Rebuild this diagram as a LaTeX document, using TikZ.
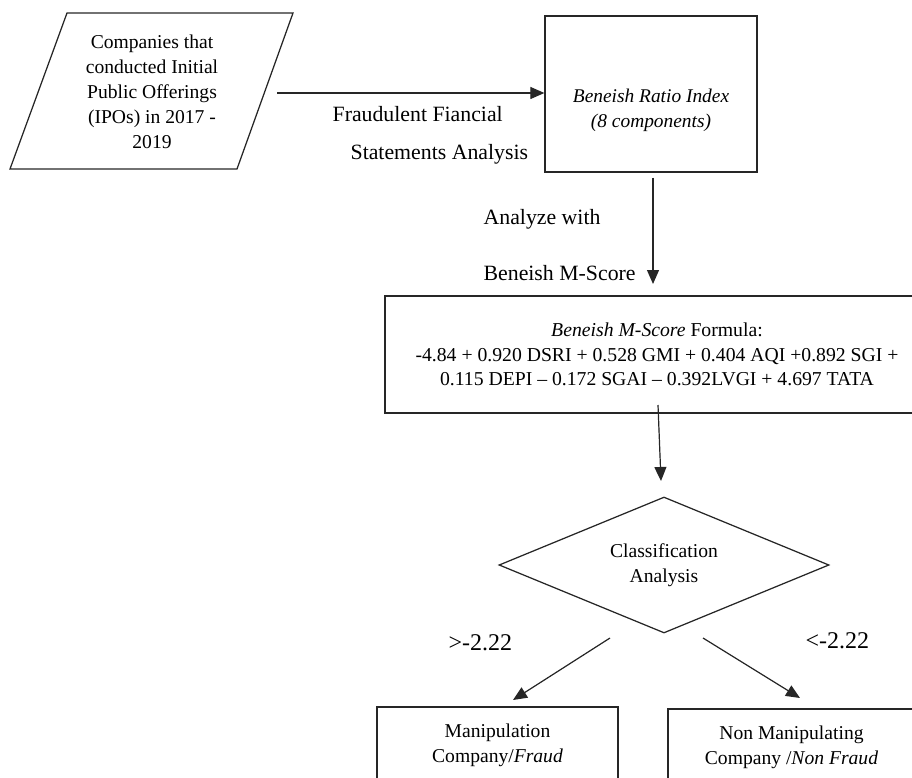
\documentclass[tikz,border=0pt]{standalone}
\usepackage{fontspec}
\setmainfont{Liberation Serif}
\usetikzlibrary{shapes.geometric,arrows.meta}
\begin{document}
\begin{tikzpicture}[x=1pt,y=-1pt,
  line width=1.25pt, draw=black!85,
  arr/.style={-{Triangle[length=14pt,width=12pt]}, line width=1.2pt, draw=black!85, fill=black},
  box/.style={draw, rectangle, inner sep=0pt},
  txt/.style={font=\fontsize{19.6}{25}\selectfont, align=center, inner sep=0pt},
  lbl/.style={font=\fontsize{21.8}{26}\selectfont, anchor=base west, inner sep=0pt},
  thr/.style={font=\fontsize{24}{28}\selectfont, anchor=base west, inner sep=0pt}]
\path[use as bounding box, clip] (0,0) rectangle (912,778);

% input parallelogram
\coordinate (p1) at (67,13);
\coordinate (p2) at (293,13);
\coordinate (p3) at (237,169);
\coordinate (p4) at (10,169);
\draw (p1) -- (p2) -- (p3) -- (p4) -- cycle;
\node[txt] (part) at (152,92) {Companies that\\conducted Initial\\Public Offerings\\(IPOs) in 2017 -\\2019};

% Beneish ratio index box
\node[box, minimum width=212pt, minimum height=156pt] (b1) at (651,94) {};
\node[txt, font=\itshape\fontsize{19.4}{25}\selectfont] (b1t) at (651,110) {Beneish Ratio Index\\(8 components)};

% formula box
\node[box, txt, font=\fontsize{19.7}{24.5}\selectfont, minimum width=544pt, minimum height=117pt] (fb) at (657,354.5)
 {\textit{Beneish M-Score} Formula:\\-4.84 + 0.920 DSRI + 0.528 GMI + 0.404 AQI +0.892 SGI +\\0.115 DEPI – 0.172 SGAI – 0.392LVGI + 4.697 TATA};

% decision diamond
\node[draw, diamond, minimum width=330pt, minimum height=136pt, inner sep=0pt] (dm) at (664,565) {};
\node[txt] (dmt) at (664,565) {Classification\\Analysis};

% result boxes
\node[box, txt, minimum width=241pt, minimum height=77pt] (lb) at (497.5,745.5) {Manipulation\\Company/\textit{Fraud}};
\node[box, txt, minimum width=247pt, minimum height=77pt] (rb) at (791.5,747.5) {Non Manipulating\\Company /\textit{Non Fraud}};

% connector end points
\coordinate (a1s) at (277,93);
\coordinate (a2s) at (653,178);
\coordinate (a2e) at (653,284);
\coordinate (a3s) at (658,405);
\coordinate (a3e) at (661,481);
\coordinate (a4s) at (610,638);
\coordinate (a4e) at (513,700);
\coordinate (a5s) at (703,638);
\coordinate (a5e) at (800,698);

\draw[arr] (a1s) -- (b1.west |- a1s);
\draw[arr] (a2s) -- (a2e);
\draw[arr] (a3s) -- (a3e);
\draw[arr] (a4s) -- (a4e);
\draw[arr] (a5s) -- (a5e);

% labels
\node[lbl] (l1) at (332,122) {Fraudulent Fiancial};
\node[lbl] (l2) at (350,160) {Statements Analysis};
\node[lbl] (l3) at (483,224) {Analyze with};
\node[lbl] (l4) at (483,280) {Beneish M-Score};
\node[thr] (l5) at (448,650) {>-2.22};
\node[thr] (l6) at (805,648) {<-2.22};
\end{tikzpicture}
\end{document}
